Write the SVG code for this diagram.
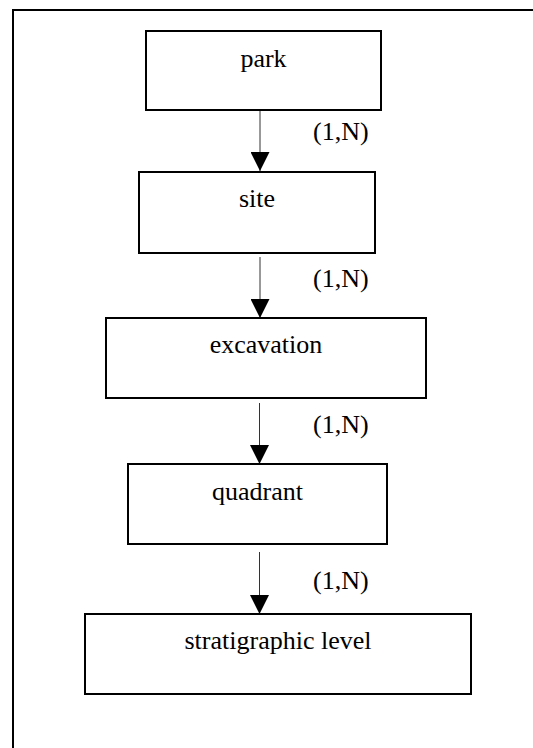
<svg xmlns="http://www.w3.org/2000/svg" width="533" height="748" viewBox="0 0 533 748">
<defs>
<style>
.box{fill:#fff;stroke:#000;stroke-width:2}
.frame{fill:none;stroke:#000;stroke-width:2}
.lbl{font-family:"Liberation Serif","Times New Roman",serif;font-size:26px;fill:#000}
.mid{text-anchor:middle}
.conn{stroke:#333;stroke-width:1;fill:none}
</style>
<marker id="arr" markerUnits="userSpaceOnUse" markerWidth="20" markerHeight="19" refX="19" refY="9.5" orient="auto">
<path d="M0,0 L19,9.5 L0,19 Z" fill="#000"/>
</marker>
</defs>
<rect width="533" height="748" fill="#fff"/>
<path class="frame" d="M13,748 L13,10 L533,10"/>
<g id="connectors">
<line class="conn" x1="260" y1="110" x2="260" y2="171" marker-end="url(#arr)"/>
<line class="conn" x1="260" y1="257" x2="260" y2="318" marker-end="url(#arr)"/>
<line class="conn" x1="259.5" y1="403" x2="259.5" y2="464" marker-end="url(#arr)"/>
<line class="conn" x1="259.5" y1="552" x2="259.5" y2="614" marker-end="url(#arr)"/>
<text class="lbl" x="313" y="140">(1,N)</text>
<text class="lbl" x="313" y="287">(1,N)</text>
<text class="lbl" x="313" y="433">(1,N)</text>
<text class="lbl" x="313" y="589">(1,N)</text>
</g>
<g id="park">
<rect class="box" x="146" y="31" width="235" height="79"/>
<text class="lbl mid" x="263.5" y="67">park</text>
</g>
<g id="site">
<rect class="box" x="139" y="172" width="236" height="81"/>
<text class="lbl mid" x="257" y="207">site</text>
</g>
<g id="excavation">
<rect class="box" x="106" y="318" width="320" height="80"/>
<text class="lbl mid" x="266" y="353">excavation</text>
</g>
<g id="quadrant">
<rect class="box" x="128" y="464" width="259" height="80"/>
<text class="lbl mid" x="257.5" y="500">quadrant</text>
</g>
<g id="stratigraphic_level">
<rect class="box" x="85" y="614" width="386" height="80"/>
<text class="lbl mid" x="278" y="649">stratigraphic level</text>
</g>
</svg>
